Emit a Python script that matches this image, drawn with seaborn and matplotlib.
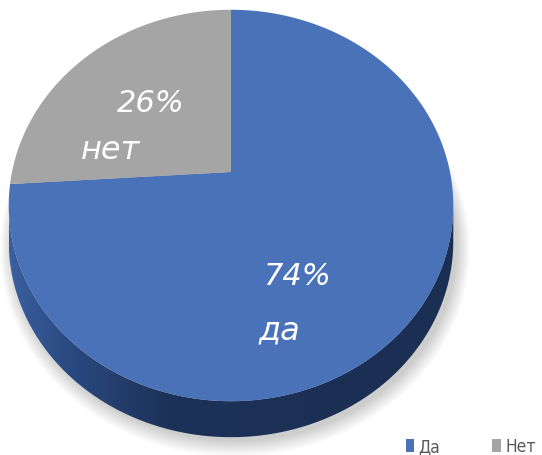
import numpy as np
import matplotlib
matplotlib.use("Agg")
import matplotlib.pyplot as plt
import seaborn as sns
from matplotlib.patches import Polygon
from matplotlib.colors import LinearSegmentedColormap

# data
categories = ["Да", "Нет"]
values = [74, 26]
slice_labels = ["да", "нет"]
colors = ["#4a72b9", "#a5a5a5"]

sns.set_theme(style="white")
plt.rcParams['font.family'] = ['DejaVu Sans']

W, H = 542, 456
fig = plt.figure(figsize=(W / 100, H / 100), dpi=100)
ax = fig.add_axes([0, 0, 1, 1])

# perspective view of the tilted disc (screen pixels, y downwards)
cx, cy = 231, 173      # projected centre of the pie
sx, sy = 219, 190      # scale
k = 0.171              # perspective strength
depth = 36             # thickness in px


def persp(xy, dy=0.0):
    x, y = xy[:, 0], xy[:, 1]
    d = 1 + k * y
    return np.column_stack([cx + sx * x / d, cy - sy * y / d + dy])


# build the wedges in unit space, then project them
wedges, _ = ax.pie(values, colors=colors, startangle=90, counterclock=False,
                   radius=1.0, wedgeprops=dict(edgecolor="none"))

# soft shadow below the disc
t_all = np.linspace(0, 2 * np.pi, 400)
circle = np.column_stack([np.cos(t_all), np.sin(t_all)])
for i in range(10):
    sh = persp(circle * (1.0 + 0.006 * i), dy=depth + 4)
    ax.add_patch(Polygon(sh + [4, 0], closed=True, facecolor="black",
                         edgecolor="none", alpha=0.018, zorder=0))

# side wall (front half of the rim)
t = np.linspace(np.pi + np.arcsin(k), 2 * np.pi - np.arcsin(k), 300)
rim = np.column_stack([np.cos(t), np.sin(t)])
bottom = persp(rim, dy=depth)
top = persp(rim)[::-1]
side = Polygon(np.vstack([bottom, top]), closed=True, facecolor="none",
               edgecolor="none", zorder=1)
ax.add_patch(side)
cmap = LinearSegmentedColormap.from_list(
    "side", [(0.0, "#3b60a0"), (0.12, "#2b4b83"), (0.35, "#1d3259"),
             (1.0, "#1b2e53")])
img = ax.imshow(np.linspace(0, 1, 256).reshape(1, -1),
                extent=[bottom[:, 0].min(), bottom[:, 0].max(), H, 0],
                aspect="auto", cmap=cmap, zorder=1, interpolation="bilinear")
img.set_clip_path(side)

# top face: each wedge's own angles, projected
faces = []
for w in wedges:
    a = np.radians(np.linspace(w.theta1, w.theta2, 200))
    arc = np.column_stack([w.center[0] + w.r * np.cos(a),
                           w.center[1] + w.r * np.sin(a)])
    poly = np.vstack([[w.center], arc])
    p = Polygon(persp(poly), closed=True, facecolor=w.get_facecolor(),
                edgecolor="none", zorder=2)
    ax.add_patch(p)
    faces.append(p)
    w.remove()

ax.set_aspect("auto")
ax.set_xlim(0, W)
ax.set_ylim(H, 0)
ax.axis("off")

# slice labels (percent + word)
pct_pos = [(297, 277), (151, 104)]
word_pos = [(279, 331), (110, 151)]
for v, lab, pp, wp in zip(values, slice_labels, pct_pos, word_pos):
    ax.text(pp[0], pp[1], f"{v}%", color="white", fontsize=22, style="italic",
            ha="center", va="center", zorder=5)
    ax.text(wp[0], wp[1], lab, color="white", fontsize=23, style="italic",
            ha="center", va="center", zorder=5)

fig.legend(faces, categories, loc="lower right", bbox_to_anchor=(1.018, -0.035),
           ncol=2, frameon=False, handlelength=0.5, handleheight=0.75,
           handletextpad=0.25, columnspacing=3.0,
           prop={"family": ["Liberation Sans Narrow", "DejaVu Sans"],
                 "size": 12.5, "stretch": "condensed"},
           labelcolor="#595959")

fig.savefig("out.png", dpi=100, facecolor="white")
